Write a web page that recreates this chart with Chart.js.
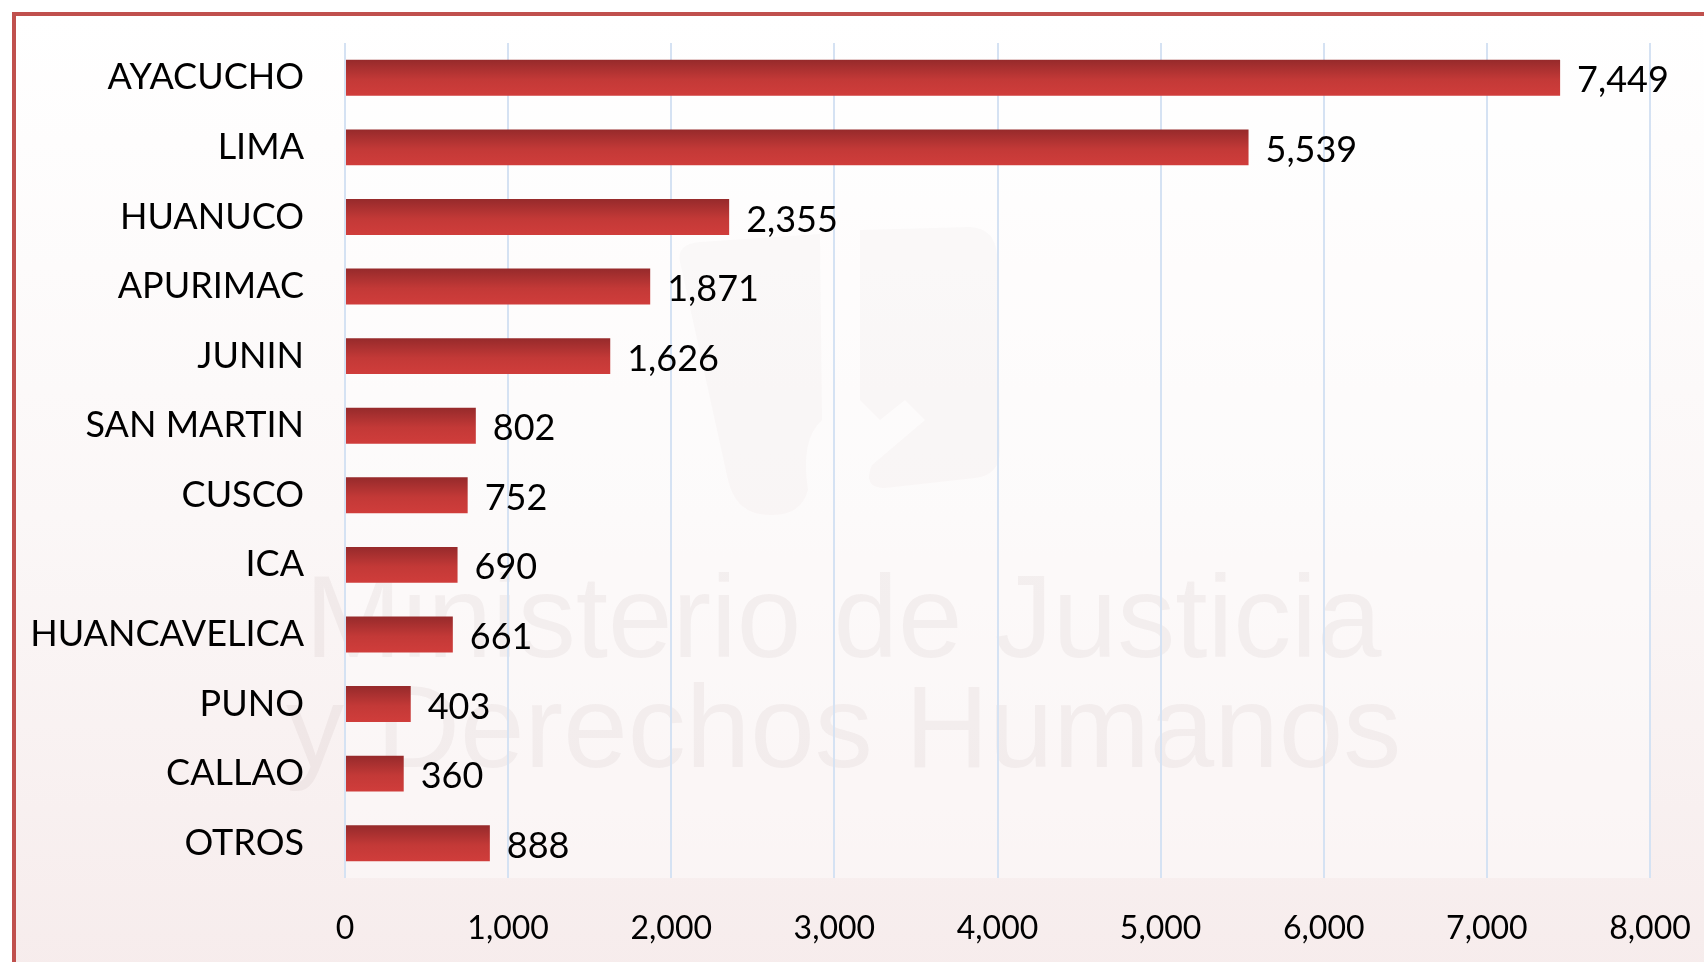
<!DOCTYPE html>
<html>
<head>
  <title>Casos por departamento</title>
  <script src="https://cdn.jsdelivr.net/npm/chart.js"></script>
  <style>
    html, body {
      margin: 0;
      padding: 0;
      background: #ffffff;
      overflow: hidden;
    }
    #frame {
      position: absolute;
      left: 12px;
      top: 12px;
      width: 1760px;
      height: 1000px;
      border-top: 4px solid #c0504d;
      border-left: 4px solid #c0504d;
      background: linear-gradient(to bottom, #ffffff 0%, #fbf7f7 50%, #f6ebeb 100%);
    }
    #wrap {
      position: absolute;
      left: 0;
      top: 0;
      width: 1704px;
      height: 962px;
    }
  </style>
</head>
<body>
  <div id="frame"></div>
  <div id="wrap"><canvas id="deptChart" width="1704" height="962"></canvas></div>

  <script>
    const departamentos = ['AYACUCHO', 'LIMA', 'HUANUCO', 'APURIMAC', 'JUNIN', 'SAN MARTIN',
                           'CUSCO', 'ICA', 'HUANCAVELICA', 'PUNO', 'CALLAO', 'OTROS'];
    const casos = [7449, 5539, 2355, 1871, 1626, 802, 752, 690, 661, 403, 360, 888];
    const xTicks = [0, 1000, 2000, 3000, 4000, 5000, 6000, 7000, 8000];

    const BAR_PCT = 0.517;
    const fmt = v => v.toLocaleString('en-US');

    // vertical shading on each bar, dark on top
    function barGradient(c) {
      const chart = c.chart;
      const ys = chart.scales.y;
      if (!ys || !chart.chartArea || c.dataIndex === undefined) return '#c0392f';
      const cy = ys.getPixelForValue(c.dataIndex);
      const half = ys.height / departamentos.length * BAR_PCT / 2;
      const g = chart.ctx.createLinearGradient(0, cy - half, 0, cy + half);
      g.addColorStop(0, '#962a2b');
      g.addColorStop(0.55, '#c33937');
      g.addColorStop(1, '#d03d3b');
      return g;
    }

    // pale emblem behind the bars
    function drawEmblem(ctx) {
      ctx.beginPath();
      ctx.moveTo(680, 262);
      ctx.quadraticCurveTo(676, 244, 700, 242);
      ctx.lineTo(820, 234);
      ctx.lineTo(822, 420);
      ctx.quadraticCurveTo(800, 440, 808, 490);
      ctx.quadraticCurveTo(800, 520, 760, 514);
      ctx.quadraticCurveTo(735, 510, 728, 480);
      ctx.closePath();
      ctx.fill();

      ctx.beginPath();
      ctx.moveTo(860, 230);
      ctx.lineTo(970, 227);
      ctx.quadraticCurveTo(995, 228, 997, 255);
      ctx.lineTo(1000, 450);
      ctx.quadraticCurveTo(1000, 475, 975, 478);
      ctx.lineTo(885, 488);
      ctx.quadraticCurveTo(862, 488, 872, 465);
      ctx.lineTo(925, 420);
      ctx.lineTo(905, 400);
      ctx.lineTo(880, 420);
      ctx.lineTo(860, 400);
      ctx.closePath();
      ctx.fill();
    }

    // faint plot area + background lettering
    const backdrop = {
      id: 'backdrop',
      beforeDraw(chart) {
        const { ctx, chartArea: a } = chart;
        ctx.save();
        ctx.fillStyle = 'rgba(255,255,255,0.4)';
        ctx.fillRect(a.left, a.top, a.right - a.left, a.bottom - a.top);
        ctx.fillStyle = 'rgba(120,95,95,0.03)';
        drawEmblem(ctx);
        ctx.fillStyle = 'rgba(120,95,95,0.065)';
        ctx.font = '116px "Liberation Sans"';
        ctx.textBaseline = 'alphabetic';
        ctx.fillText('Ministerio de Justicia', 305, 657);
        ctx.fillText('y Derechos Humanos', 286, 767);
        ctx.restore();
      }
    };

    const valueLabels = {
      id: 'valueLabels',
      afterDatasetsDraw(chart) {
        const { ctx } = chart;
        const meta = chart.getDatasetMeta(0);
        ctx.save();
        ctx.font = '36px Lato';
        ctx.fillStyle = '#000000';
        ctx.textAlign = 'left';
        ctx.textBaseline = 'middle';
        meta.data.forEach((bar, i) => {
          ctx.fillText(fmt(casos[i]), bar.x + 17, bar.y + 3);
        });
        ctx.restore();
      }
    };

    const ctx = document.getElementById('deptChart').getContext('2d');
    new Chart(ctx, {
      type: 'bar',
      data: {
        labels: departamentos,
        datasets: [{
          data: casos,
          backgroundColor: barGradient,
          borderWidth: 0,
          barPercentage: BAR_PCT,
          categoryPercentage: 1
        }]
      },
      options: {
        indexAxis: 'y',
        responsive: false,
        animation: false,
        layout: { padding: { top: 43, right: 54, left: 0, bottom: 0 } },
        plugins: {
          legend: { display: false },
          tooltip: { enabled: false }
        },
        scales: {
          x: {
            min: xTicks[0],
            max: xTicks[xTicks.length - 1],
            afterBuildTicks(scale) {
              scale.ticks = xTicks.map(v => ({ value: v }));
            },
            afterFit(scale) {
              scale.height = 84;
              scale.paddingLeft = 0;
              scale.paddingRight = 0;
            },
            grid: { color: '#d5e2f3', lineWidth: 2, drawTicks: false },
            border: { display: false },
            ticks: {
              padding: 31,
              color: '#000000',
              font: { family: 'Lato', size: 32 },
              callback: v => fmt(v)
            }
          },
          y: {
            afterFit(scale) {
              scale.width = 345;
              scale.paddingTop = 0;
              scale.paddingBottom = 0;
            },
            grid: { display: false, drawTicks: false },
            border: { display: false },
            ticks: {
              padding: 41,
              color: '#000000',
              font: { family: 'Lato', size: 36 }
            }
          }
        }
      },
      plugins: [backdrop, valueLabels]
    });
  </script>
</body>
</html>
